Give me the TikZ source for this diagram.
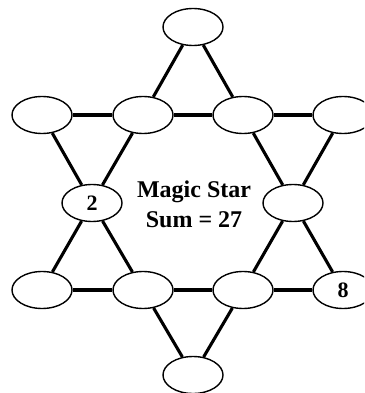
\documentclass[tikz,border=0pt]{standalone}
\usepackage{fontspec}
\setmainfont{Liberation Serif}
\usetikzlibrary{shapes.geometric}
\tikzset{
  spot/.style={ellipse, draw, line width=1.4pt, fill=white, minimum width=60pt, minimum height=37pt, inner sep=0pt,
    font=\fontsize{22}{24}\selectfont\bfseries},
  side/.style={line width=3.1pt},
  flat/.style={line width=3.6pt},
  caption/.style={anchor=base, inner sep=0pt, font=\fontsize{24}{28}\selectfont\bfseries}
}
\begin{document}
\begin{tikzpicture}[x=1pt,y=-1pt]
\useasboundingbox (0,0) rectangle (364,393);
\clip (0,0) rectangle (364,393);
\node[spot] (T) at (193,27) {};
\node[spot] (A1) at (42,115) {};
\node[spot] (A2) at (143,115) {};
\node[spot] (A3) at (243,115) {};
\node[spot] (A4) at (343,115) {};
\node[spot] (M1) at (92,203) {2};
\node[spot] (M2) at (293,203) {};
\node[spot] (B1) at (42,290) {};
\node[spot] (B2) at (143,290) {};
\node[spot] (B3) at (243,290) {};
\node[spot] (B4) at (343,290) {8};
\node[spot] (Bo) at (193,375) {};
\node[caption] (t1) at (194,197) {Magic Star};
\node[caption] (t2) at (194,227) {Sum = 27};
\draw[side] (T) -- (A2);
\draw[side] (T) -- (A3);
\draw[flat] (A1) -- (A2);
\draw[flat] (A2) -- (A3);
\draw[flat] (A3) -- (A4);
\draw[side] (A1) -- (M1);
\draw[side] (A2) -- (M1);
\draw[side] (A3) -- (M2);
\draw[side] (A4) -- (M2);
\draw[side] (M1) -- (B1);
\draw[side] (M1) -- (B2);
\draw[side] (M2) -- (B3);
\draw[side] (M2) -- (B4);
\draw[flat] (B1) -- (B2);
\draw[flat] (B2) -- (B3);
\draw[flat] (B3) -- (B4);
\draw[side] (B2) -- (Bo);
\draw[side] (B3) -- (Bo);
\end{tikzpicture}
\end{document}
